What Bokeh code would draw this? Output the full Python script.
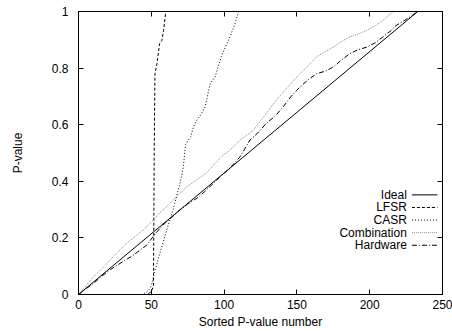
from bokeh.plotting import figure
from bokeh.models import Range1d, FixedTicker, LinearAxis, Label
from bokeh.embed import file_html
from bokeh.resources import INLINE

# ---- data ----
ideal_x = [0, 233]
ideal_y = [0, 1]

lfsr_x = [0, 47, 50, 51.5, 52, 52.5, 53.9, 55.7, 57.3, 58.4, 60, 233]
lfsr_y = [0, 0, 0.01, 0.03, 0.5, 0.78, 0.816, 0.886, 0.898, 0.933, 1.0, 1.0]

casr_x = [0, 44, 47, 49, 50.5, 52.7, 56, 60.7, 65, 67.5, 70, 72, 73.5, 77, 79, 81.3,
          84, 87, 90.4, 93.8, 98, 104, 107, 110, 233]
casr_y = [0, 0, 0.01, 0.02, 0.04, 0.088, 0.147, 0.229, 0.30, 0.35, 0.40, 0.45, 0.53,
          0.557, 0.593, 0.616, 0.635, 0.663, 0.745, 0.769, 0.84, 0.91, 0.95, 1.0, 1.0]

comb_x = [0, 5, 10.5, 16, 21.9, 27, 33.3, 39, 44.7, 51.6, 56, 60.7, 67.5, 74.4, 81.3,
          88, 95, 100, 104, 111, 120, 129, 138, 145, 152, 158, 163.5, 170, 175, 181,
          186, 192, 198, 204, 209, 216, 233]
comb_y = [0, 0.03, 0.064, 0.09, 0.123, 0.15, 0.182, 0.205, 0.229, 0.264, 0.29, 0.311,
          0.346, 0.381, 0.405, 0.43, 0.47, 0.495, 0.51, 0.546, 0.58, 0.64, 0.70, 0.74,
          0.78, 0.81, 0.84, 0.86, 0.874, 0.895, 0.91, 0.92, 0.933, 0.95, 0.968, 1.0, 1.0]

hw_x = [0, 5, 10.5, 16, 21.9, 27, 33.3, 38, 42.5, 47, 52, 56.2, 60, 63, 69.9, 75, 81.3,
        87, 92.7, 98, 104, 111, 117.8, 123, 129, 135, 140.6, 146, 152, 158, 163.5, 170,
        175, 181, 186, 192, 198, 204, 209, 214, 218, 226, 233]
hw_y = [0, 0.02, 0.04, 0.065, 0.088, 0.105, 0.125, 0.14, 0.158, 0.175, 0.21, 0.235,
        0.255, 0.268, 0.30, 0.32, 0.34, 0.365, 0.393, 0.42, 0.446, 0.487, 0.546, 0.57,
        0.605, 0.63, 0.663, 0.70, 0.733, 0.76, 0.78, 0.79, 0.804, 0.83, 0.85, 0.865,
        0.874, 0.89, 0.91, 0.93, 0.95, 0.975, 1.0]

series_names = ["Ideal", "LFSR", "CASR", "Combination", "Hardware"]
x_ticks = [0, 50, 100, 150, 200, 250]
y_ticks = [0, 0.2, 0.4, 0.6, 0.8, 1]
y_tick_labels = ["0", "0.2", "0.4", "0.6", "0.8", "1"]

FONT = "Liberation Sans"

p = figure(width=452, height=331, output_backend="svg", toolbar_location=None,
           x_range=Range1d(0, 250), y_range=Range1d(0, 1),
           min_border_left=78, min_border_right=10, min_border_top=11, min_border_bottom=36)
p.grid.visible = False
p.background_fill_color = "white"
p.border_fill_color = "white"
p.outline_line_color = "black"
p.outline_line_width = 1

for ax in (p.xaxis[0], p.yaxis[0]):
    ax.major_tick_in = 5
    ax.major_tick_out = 0
    ax.minor_tick_line_color = None
    ax.axis_line_color = "black"
    ax.major_tick_line_color = "black"
    ax.major_label_text_font = FONT
    ax.major_label_text_font_size = "12px"
    ax.major_label_text_color = "black"
    ax.axis_label_text_font = FONT
    ax.axis_label_text_font_size = "12px"
    ax.axis_label_text_font_style = "normal"
    ax.axis_label_text_color = "black"

p.xaxis.ticker = FixedTicker(ticks=x_ticks)
p.yaxis.ticker = FixedTicker(ticks=y_ticks)
p.yaxis.major_label_overrides = {t: s for t, s in zip(y_ticks, y_tick_labels)}
p.xaxis.axis_label = "Sorted P-value number"
p.yaxis.axis_label = "P-value"
p.xaxis.major_label_standoff = 5
p.xaxis.axis_label_standoff = 3
p.yaxis.major_label_standoff = 10
p.yaxis.axis_label_standoff = 24

# mirrored ticks (top and right), labels not painted
for loc, tick_vals in (("above", x_ticks), ("right", y_ticks)):
    a = LinearAxis(ticker=FixedTicker(ticks=tick_vals))
    a.major_tick_in = 5
    a.major_tick_out = 0
    a.minor_tick_line_color = None
    a.major_label_text_font_size = "1px"
    a.major_label_text_color = None
    a.major_label_standoff = 0
    a.axis_line_color = "black"
    a.major_tick_line_color = "black"
    p.add_layout(a, loc)

styles = {
    "Ideal": dict(line_color="black", line_dash="solid"),
    "LFSR": dict(line_color="black", line_dash="3 2"),
    "CASR": dict(line_color="black", line_dash="1 2"),
    "Combination": dict(line_color="#8c8c8c", line_dash="1 1"),
    "Hardware": dict(line_color="black", line_dash="5 2 1 2"),
}
data = {
    "Ideal": (ideal_x, ideal_y),
    "LFSR": (lfsr_x, lfsr_y),
    "CASR": (casr_x, casr_y),
    "Combination": (comb_x, comb_y),
    "Hardware": (hw_x, hw_y),
}
for name in series_names:
    xs, ys = data[name]
    p.line(xs, ys, line_width=1, **styles[name])

# manual key: label right-aligned, sample line to the right (gnuplot style)
key_text_x = 225.5
key_x0, key_x1 = 229, 246.5
key_top = 0.352
key_step = 0.0445
for i, name in enumerate(series_names):
    yy = key_top - i * key_step
    p.add_layout(Label(x=key_text_x, y=yy, text=name, text_align="right",
                       text_baseline="middle", text_font=FONT,
                       text_font_size="12px", text_color="black"))
    p.segment(x0=[key_x0], y0=[yy], x1=[key_x1], y1=[yy], line_width=1, **styles[name])

open("out.html", "w").write(file_html(p, INLINE))
